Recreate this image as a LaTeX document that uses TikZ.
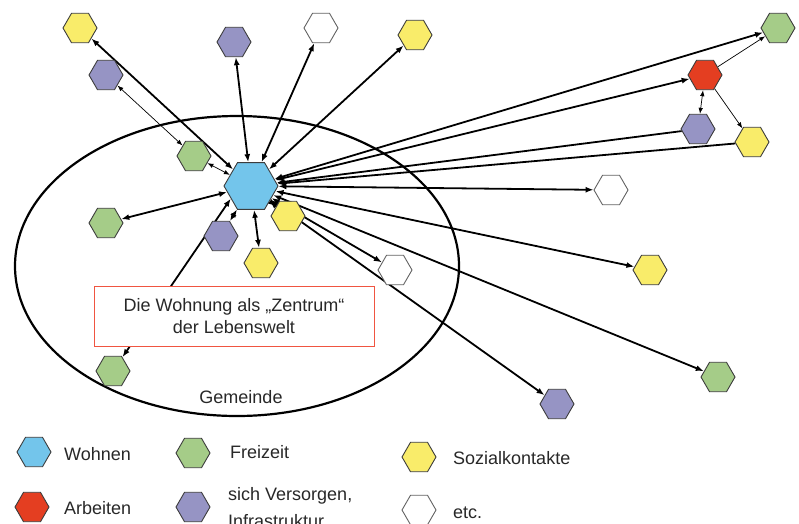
\documentclass[tikz,border=0pt]{standalone}
\usepackage{fontspec}
\setmainfont{Liberation Sans}
\usetikzlibrary{shapes.geometric,arrows.meta,backgrounds}
\definecolor{wohnblau}{RGB}{115,197,235}
\definecolor{freigruen}{RGB}{165,204,136}
\definecolor{sozgelb}{RGB}{249,236,106}
\definecolor{verslila}{RGB}{150,148,196}
\definecolor{arbrot}{RGB}{228,62,33}
\definecolor{kasten}{RGB}{240,85,65}
\definecolor{rand}{RGB}{60,60,60}
\definecolor{schrift}{RGB}{40,40,40}

\begin{document}
\begin{tikzpicture}[x=1pt,y=-1pt,>={Latex[length=8pt,width=6pt]},
  every node/.style={font=\fontsize{18}{22}\selectfont,text=schrift},
  hex/.style={regular polygon,regular polygon sides=6,minimum size=34pt,inner sep=0pt,draw=rand,line width=0.9pt},
  wohnhex/.style={hex,fill=wohnblau},
  freihex/.style={hex,fill=freigruen},
  sozhex/.style={hex,fill=sozgelb},
  vershex/.style={hex,fill=verslila},
  arbhex/.style={hex,fill=arbrot},
  etchex/.style={hex,fill=white,draw=rand!80},
  main/.style={line width=1.8pt},
  thin/.style={line width=0.7pt,>={Latex[length=6pt,width=4.5pt]}},
  legtext/.style={anchor=west,inner sep=0pt}]
  \useasboundingbox (0,0) rectangle (799,523);

  % Gemeinde
  \draw[line width=2.2pt] (237,266) ellipse [x radius=222,y radius=150];
  \node (gemeinde) at (241,397) {Gemeinde};

  % Wohnung in der Mitte
  \node[wohnhex,minimum size=54pt] (wohnen) at (251,186) {};

  \node[sozhex] (soza) at (80,28) {};
  \node[sozhex] (sozb) at (415,35) {};
  \node[sozhex] (sozc) at (261,263) {};
  \node[sozhex] (sozd) at (288,216) {};
  \node[sozhex] (soze) at (752,142) {};
  \node[sozhex] (sozf) at (650,270) {};

  \node[freihex] (freia) at (194,156) {};
  \node[freihex] (freib) at (106,223) {};
  \node[freihex] (freic) at (113,371) {};
  \node[freihex] (freid) at (778,28) {};
  \node[freihex] (freie) at (718,377) {};

  \node[vershex] (versa) at (234,42) {};
  \node[vershex] (versb) at (106,75) {};
  \node[vershex] (versc) at (221,236) {};
  \node[vershex] (versd) at (698,129) {};
  \node[vershex] (verse) at (557,404) {};

  \node[etchex] (etca) at (321,28) {};
  \node[etchex] (etcb) at (395,270) {};
  \node[etchex] (etcc) at (611,190) {};

  \node[arbhex] (arb) at (705,75) {};

  \node[draw=kasten,fill=white,line width=1pt,minimum width=280pt,minimum height=60pt,
        align=center,inner sep=0pt] (zentrum) at (234,316)
        {Die Wohnung als „Zentrum“\\der Lebenswelt};

  % Verbindungen
  \begin{scope}[on background layer]
    \foreach \n in {soza,versa,etca,sozb,freib,versc,sozc,sozd,freid,arb,etcb,etcc,sozf,freie,verse}
      \draw[main,<->] (wohnen) -- (\n);
    \foreach \n in {versd,soze}
      \draw[main,<-] (wohnen) -- (\n);
    \draw[main,<->] (freic) -- (wohnen.212);
    \draw[thin,<->] (versb) -- (freia);
    \draw[thin,<->] (freia) -- (wohnen);
    \draw[thin,->] (arb) -- (freid);
    \draw[thin,<->] (arb) -- (versd);
    \draw[thin,->] (arb) -- (soze);
  \end{scope}

  % Legende
  \node[wohnhex] (lwohnen) at (34,452) {};
  \node[legtext] (twohnen) at (64,454) {Wohnen};
  \node[freihex] (lfrei) at (193,453) {};
  \node[legtext] (tfrei) at (230,452) {Freizeit};
  \node[sozhex] (lsoz) at (419,457) {};
  \node[legtext] (tsoz) at (453,458) {Sozialkontakte};
  \node[arbhex] (larb) at (32,507) {};
  \node[legtext] (tarb) at (64,508) {Arbeiten};
  \node[vershex] (lvers) at (193,507) {};
  \node[anchor=north west,inner sep=0pt,align=left,font=\fontsize{18}{27}\selectfont] (tvers) at (228,487)
       {sich Versorgen,\\Infrastruktur};
  \node[etchex] (letc) at (419,510) {};
  \node[legtext] (tetc) at (453,513) {etc.};
\end{tikzpicture}
\end{document}
